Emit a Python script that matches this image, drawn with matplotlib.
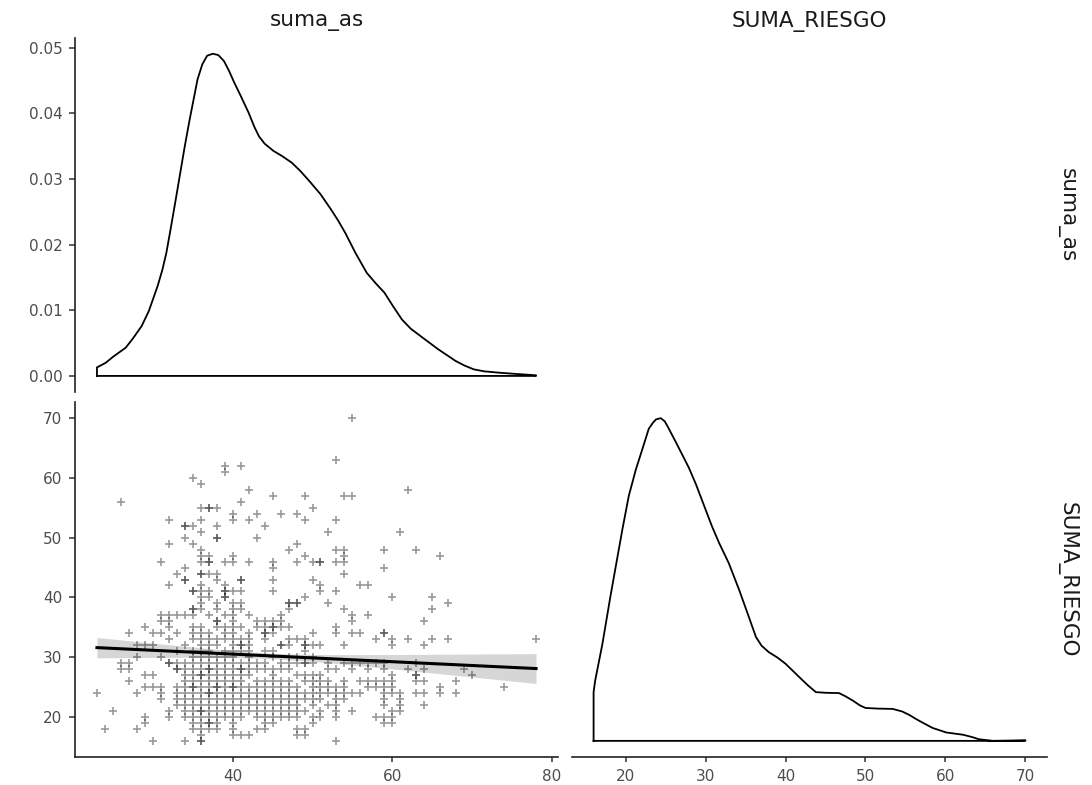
import numpy as np
import matplotlib
matplotlib.use('Agg')
from matplotlib import pyplot as plt

plt.rcParams['font.family'] = ['DejaVu Sans']

# scatter: suma_as column -> SUMA_RIESGO values (repeated value = overplotted point)
scatter_cols = [
    (23, [24]),
    (24, [18]),
    (25, [21]),
    (26, [56, 29, 28]),
    (27, [34, 29, 28, 26]),
    (28, [32, 30, 24, 18]),
    (29, [35, 32, 27, 25, 20, 19]),
    (30, [34, 32, 27, 25, 16]),
    (31, [46, 37, 36, 34, 30, 25, 24, 23]),
    (32, [53, 49, 42, 37, 36, 35, 33, 29, 29, 21, 20]),
    (33, [44, 37, 34, 31, 29, 28, 28, 25, 24, 23, 22]),
    (34, [52, 52, 50, 45, 43, 43, 37, 32, 29, 28, 27, 26, 25, 24, 23, 22, 21, 20, 16]),
    (35, [60, 52, 49, 41, 41, 38, 38, 37, 35, 34, 33, 31, 30, 29, 28, 27, 26, 25, 25, 24, 23,
          22, 21, 20, 19, 18]),
    (36, [59, 55, 53, 51, 48, 47, 46, 44, 44, 42, 41, 40, 39, 38, 35, 34, 33, 32, 31, 30, 29,
          28, 27, 27, 26, 25, 24, 23, 22, 21, 21, 20, 19, 18, 17, 16, 16]),
    (37, [55, 55, 47, 46, 46, 44, 41, 40, 37, 34, 33, 32, 31, 30, 29, 28, 28, 27, 26, 25, 24,
          24, 23, 22, 21, 20, 19, 19, 18]),
    (38, [55, 52, 50, 50, 44, 43, 39, 38, 36, 36, 35, 33, 32, 30, 29, 28, 27, 26, 25, 25, 24,
          23, 22, 21, 20, 19, 18]),
    (39, [62, 61, 46, 42, 41, 41, 40, 40, 37, 35, 34, 33, 31, 30, 29, 28, 27, 26, 25, 24, 23,
          22, 21, 20]),
    (40, [54, 53, 47, 46, 41, 39, 38, 37, 36, 35, 34, 33, 32, 31, 30, 29, 28, 27, 26, 25, 25,
          24, 23, 22, 21, 20, 19, 18, 17]),
    (41, [62, 56, 43, 43, 41, 39, 38, 35, 33, 32, 32, 31, 29, 28, 28, 27, 26, 25, 24, 23, 22,
          21, 20, 17]),
    (42, [58, 53, 46, 37, 34, 33, 32, 31, 30, 29, 28, 27, 25, 24, 23, 22, 21, 17]),
    (43, [54, 50, 36, 35, 29, 28, 26, 25, 24, 23, 22, 21, 20, 18]),
    (44, [52, 36, 35, 34, 34, 33, 31, 29, 28, 26, 25, 24, 23, 22, 21, 20, 19, 18]),
    (45, [57, 46, 45, 43, 41, 36, 35, 35, 34, 31, 30, 28, 27, 26, 25, 24, 23, 22, 21, 20, 19]),
    (46, [54, 37, 36, 35, 32, 32, 29, 28, 26, 25, 24, 23, 22, 21, 20]),
    (47, [48, 39, 39, 38, 35, 33, 32, 30, 29, 28, 26, 25, 24, 23, 22, 21, 20]),
    (48, [54, 49, 46, 39, 39, 33, 30, 29, 27, 25, 24, 23, 22, 21, 20, 18, 17]),
    (49, [57, 53, 47, 40, 33, 32, 32, 31, 29, 29, 27, 26, 24, 23, 21, 18, 17]),
    (50, [55, 46, 43, 34, 32, 30, 29, 27, 26, 25, 24, 23, 22, 20, 19]),
    (51, [46, 46, 42, 41, 32, 27, 26, 25, 24, 23, 21, 20]),
    (52, [51, 39, 29, 28, 26, 25, 24, 22]),
    (53, [63, 53, 48, 46, 41, 35, 34, 28, 25, 24, 23, 22, 21, 20, 16]),
    (54, [57, 48, 47, 46, 44, 38, 32, 29, 26, 25, 24, 23]),
    (55, [70, 57, 37, 36, 34, 29, 28, 24, 21]),
    (56, [42, 34, 29, 26, 24]),
    (57, [42, 37, 29, 28, 26, 25]),
    (58, [33, 29, 26, 25, 20]),
    (59, [48, 45, 34, 34, 29, 28, 26, 25, 24, 23, 22, 20, 19]),
    (60, [40, 33, 32, 27, 26, 25, 24, 21, 20, 19]),
    (61, [51, 24, 23, 22, 21]),
    (62, [58, 33, 28]),
    (63, [48, 29, 27, 27, 26, 24]),
    (64, [36, 32, 28, 26, 24, 22]),
    (65, [40, 38, 33]),
    (66, [47, 25, 24]),
    (67, [39, 33]),
    (68, [26, 24]),
    (69, [28]),
    (70, [27]),
    (74, [25]),
    (78, [33]),
]

# linear fit and its confidence band
fit_x = [23, 78]
fit_y = [31.6, 28.1]
band_x = [23, 26, 30, 35, 40, 45, 50, 55, 60, 65, 70, 74, 78]
band_half = [1.70, 1.49, 1.20, 0.87, 0.58, 0.45, 0.58, 0.87, 1.20, 1.56, 1.92, 2.21, 2.50]

# density of suma_as
as_x = [23, 24.1, 25.0, 26.6, 27.5, 28.6, 29.5, 30.6, 31.2, 31.7, 32.2, 32.8, 33.4, 34.0,
        34.6, 35.1, 35.6, 36.2, 36.8, 37.5, 38.2, 38.9, 39.5, 40.2, 41.0, 42.0, 42.7, 43.3,
        44.0, 45.1, 46.2, 47.4, 48.5, 49.6, 51.0, 52.3, 53.2, 54.1, 55.4, 56.8, 58.0, 59.0,
        60.1, 61.2, 62.3, 63.5, 64.6, 65.7, 66.8, 67.9, 69.0, 70.2, 71.5, 73.3, 75.5, 78]
as_dens = [0.0013, 0.002, 0.0029, 0.0043, 0.0057, 0.0076, 0.0099, 0.0137, 0.0162, 0.0188,
           0.0222, 0.0264, 0.0307, 0.0350, 0.0390, 0.0421, 0.0452, 0.0475, 0.0488, 0.0491,
           0.0489, 0.0480, 0.0466, 0.0447, 0.0427, 0.0401, 0.0380, 0.0365, 0.0354, 0.0343,
           0.0335, 0.0325, 0.0312, 0.0297, 0.0277, 0.0254, 0.0237, 0.0218, 0.0187, 0.0157,
           0.0140, 0.0127, 0.0106, 0.0086, 0.0072, 0.0061, 0.0051, 0.0041, 0.0032, 0.0023,
           0.0016, 0.0010, 0.0007, 0.0005, 0.0003, 0.0001]

# density of SUMA_RIESGO (relative height, peak = 1)
ri_x = [16, 16.2, 17.1, 18.1, 19, 19.6, 20.4, 21.3, 22.1, 22.9, 23.4, 23.8, 24.4, 24.9,
        25.2, 26.3, 27.1, 27.9, 28.8, 30, 30.8, 31.7, 32.9, 34.2, 35.4, 36.3, 37.0, 37.9,
        39.0, 40, 41.0, 41.7, 42.8, 43.8, 45.0, 46.7, 47.5, 48.4, 49.3, 50, 51.5, 53.4, 54.6,
        55.5, 56.3, 57.4, 58.4, 60.1, 62.2, 63.3, 64.2, 65.9, 68.4, 70]
ri_dens = [0.151, 0.187, 0.30, 0.447, 0.572, 0.655, 0.759, 0.842, 0.904, 0.967, 0.985,
           0.996, 1.0, 0.99, 0.977, 0.925, 0.886, 0.847, 0.795, 0.717, 0.665, 0.613, 0.551,
           0.468, 0.385, 0.322, 0.295, 0.275, 0.258, 0.239, 0.215, 0.198, 0.172, 0.151, 0.149,
           0.148, 0.138, 0.125, 0.110, 0.102, 0.100, 0.099, 0.091, 0.080, 0.068, 0.053, 0.040,
           0.026, 0.019, 0.012, 0.005, 0.0, 0.001, 0.002]

var_names = ['suma_as', 'SUMA_RIESGO']

tick_col = '#4D4D4D'
strip_col = '#1A1A1A'
tick_fs = 11
strip_fs = 15.5

W, H = 1092, 785
fig = plt.figure(figsize=(W / 100, H / 100), dpi=100)


def add_panel(x0, y0, x1, y1):
    # pixel box -> figure fraction
    return fig.add_axes([x0 / W, 1 - y1 / H, (x1 - x0) / W, (y1 - y0) / H])


def style(ax, left=True, bottom=True):
    for s in ['top', 'right']:
        ax.spines[s].set_visible(False)
    ax.spines['left'].set_visible(left)
    ax.spines['bottom'].set_visible(bottom)
    for s in ['left', 'bottom']:
        ax.spines[s].set_linewidth(1.2)
        ax.spines[s].set_color('#222222')
    ax.tick_params(axis='y', length=4, width=1.1, color='#333333', labelcolor=tick_col,
                   labelsize=tick_fs, pad=5, left=left, labelleft=left)
    ax.tick_params(axis='x', length=3.5, width=1.1, color='#333333', labelcolor=tick_col,
                   labelsize=tick_fs, pad=5, bottom=bottom, labelbottom=bottom)


ax_tl = add_panel(75, 38, 558, 392)
ax_bl = add_panel(75, 402, 558, 757)
ax_br = add_panel(572, 402, 1047, 757)

xlim_as = (20.25, 80.75)
ylim_ri = (13.3, 72.7)

# top-left: density of suma_as
dx = [as_x[0]] + as_x + [as_x[-1], as_x[0]]
dy = [0] + as_dens + [0, 0]
ax_tl.plot(dx, dy, color='black', lw=1.3, solid_joinstyle='round')
ax_tl.set_xlim(*xlim_as)
ax_tl.set_ylim(-0.00245, 0.0515)
ax_tl.set_yticks([0, 0.01, 0.02, 0.03, 0.04, 0.05])
ax_tl.set_yticklabels(['0.00', '0.01', '0.02', '0.03', '0.04', '0.05'])
style(ax_tl, left=True, bottom=False)

# bottom-left: scatter + lm
px, py = [], []
for xv, ys in scatter_cols:
    for yv in ys:
        px.append(xv)
        py.append(yv)
ax_bl.plot(px, py, linestyle='none', marker='+', ms=5.5, mew=1.2, color='black', alpha=0.4)
bx = np.array(band_x)
bh = np.array(band_half)
bc = np.interp(bx, fit_x, fit_y)
ax_bl.fill_between(bx, bc - bh, bc + bh, color='#999999', alpha=0.4, lw=0)
ax_bl.plot(fit_x, fit_y, color='black', lw=2.2)
ax_bl.set_xlim(*xlim_as)
ax_bl.set_ylim(*ylim_ri)
ax_bl.set_xticks([40, 60, 80])
ax_bl.set_yticks([20, 30, 40, 50, 60, 70])
style(ax_bl)

# bottom-right: density of SUMA_RIESGO
rx = [ri_x[0]] + ri_x + [ri_x[-1], ri_x[0]]
ry = [0] + ri_dens + [0, 0]
ax_br.plot(rx, ry, color='black', lw=1.3, solid_joinstyle='round')
ax_br.set_xlim(*ylim_ri)
ax_br.set_ylim(-0.05, 1.05)
ax_br.set_xticks([20, 30, 40, 50, 60, 70])
style(ax_br, left=False, bottom=True)

# strip labels
fig.text(316.5 / W, 1 - 21 / H, var_names[0], ha='center', va='center',
         fontsize=strip_fs, color=strip_col)
fig.text(809.5 / W, 1 - 21 / H, var_names[1], ha='center', va='center',
         fontsize=strip_fs, color=strip_col)
fig.text(1067 / W, 1 - 215 / H, var_names[0], ha='center', va='center', rotation=-90,
         fontsize=strip_fs, color=strip_col)
fig.text(1067 / W, 1 - 579.5 / H, var_names[1], ha='center', va='center', rotation=-90,
         fontsize=strip_fs, color=strip_col)

fig.savefig('out.png', dpi=100)
